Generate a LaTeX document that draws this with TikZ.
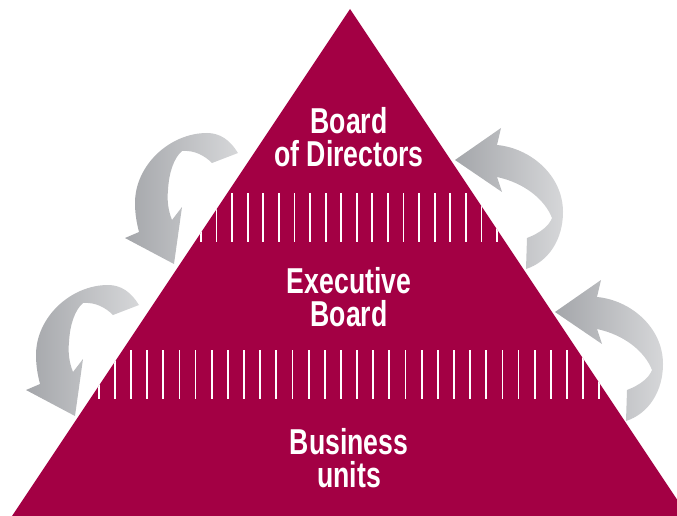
\documentclass[tikz,border=0pt]{standalone}
\usepackage{fontspec}
\newfontfamily\pyrfont[FakeStretch=0.74]{Liberation Sans}
\usepackage{xcolor}
\definecolor{pyrred}{RGB}{163,0,68}
\definecolor{curldark}{RGB}{164,166,170}
\definecolor{curllight}{RGB}{214,215,217}

\begin{document}
\begin{tikzpicture}[x=1pt, y=-1pt,
  level/.style={text=white, align=center, anchor=base, inner sep=0pt,
    font=\pyrfont\bfseries\fontsize{36}{33}\selectfont},
  stripe/.style={white, line width=1.8pt},
  curlleft/.pic={
    \shade[left color=curldark, right color=curllight]
      (238,153) .. controls (230,140) and (220,133) .. (207,133)
      .. controls (170,133) and (135,165) .. (135,203)
      .. controls (135,215) and (137,224) .. (139,232)
      -- (125,238) -- (174,264) -- (182,207) -- (172,220)
      .. controls (168,210) and (167,200) .. (168,190)
      .. controls (169,172) and (174,158) .. (182,151)
      .. controls (195,150) and (205,156) .. (212,163) -- cycle;
  },
  curlright/.pic={
    \shade[left color=curldark, right color=curllight]
      (455,160) -- (501,128) -- (497,145)
      .. controls (530,148) and (563,175) .. (563,212)
      .. controls (563,240) and (548,262) .. (526,269)
      -- (527,238)
      .. controls (540,233) and (549,226) .. (552,218)
      .. controls (545,200) and (525,183) .. (497,177)
      -- (502,192) -- cycle;
  },
]
  \useasboundingbox (0,0) rectangle (677,516);

  % feedback arrows, behind the pyramid
  \pic at (0,0) {curlleft};
  \pic at (-99,152) {curlleft};
  \pic at (0,0) {curlright};
  \pic at (100,152) {curlright};

  \coordinate (apex) at (350,9);
  \coordinate (baseR) at (688,516);
  \coordinate (baseL) at (12,516);
  \fill[pyrred] (apex) -- (baseR) -- (baseL) -- cycle;

  % white hatching between the levels
  \begin{scope}
    \clip (apex) -- (baseR) -- (baseL) -- cycle;
    \foreach \i in {-11,...,10}
      \draw[stripe] ({349+(\i+0.5)*15.58},193) -- ++(0,49);
    \foreach \i in {-17,...,16}
      \draw[stripe] ({349+(\i+0.5)*16.15},350) -- ++(0,49);
  \end{scope}

  % anchored on the baseline of the last line
  \node[level] (board) at (349,166) {Board\\of Directors};
  \node[level] (exec) at (349,326) {Executive\\Board};
  \node[level] (units) at (349,487) {Business\\units};
\end{tikzpicture}
\end{document}
